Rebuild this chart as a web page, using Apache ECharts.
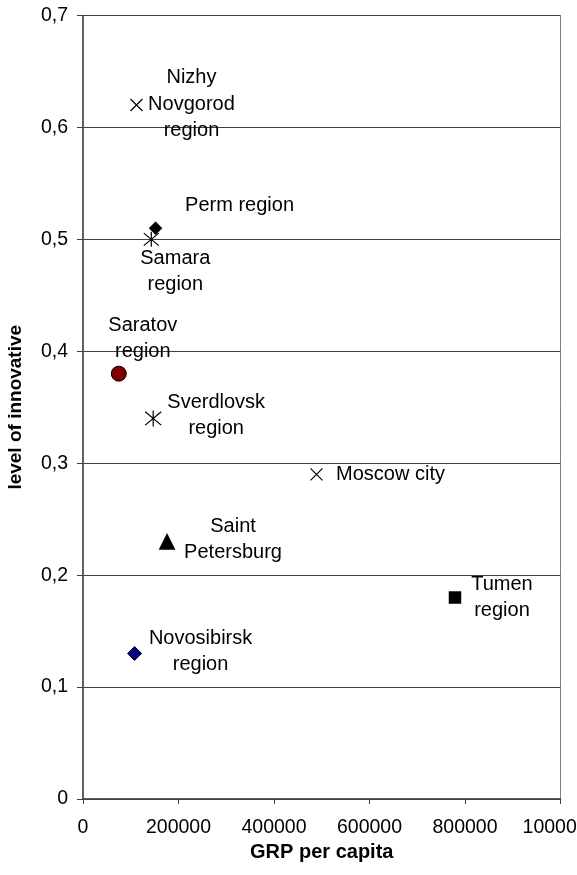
<!DOCTYPE html>
<html>
<head>
<meta charset="utf-8">
<script src="https://cdn.jsdelivr.net/npm/echarts@6/dist/echarts.min.js"></script>
<style>
html,body{margin:0;padding:0;background:#fff;}
#chart{width:577px;height:875px;}
</style>
</head>
<body>
<div id="chart"></div>
<script>
// Data
var regions = ['Nizhy\nNovgorod\nregion', 'Perm region', 'Samara\nregion', 'Saratov\nregion', 'Sverdlovsk\nregion', 'Moscow city', 'Saint\nPetersburg', 'Novosibirsk\nregion', 'Tumen\nregion'];
var grpPerCapita = [112000, 152000, 143000, 75000, 147000, 489000, 176000, 108000, 779000];
var innovationLevel = [0.62, 0.51, 0.50, 0.38, 0.34, 0.29, 0.23, 0.13, 0.18];
var xTicks = [0, 200000, 400000, 600000, 800000, 1000000];
var yTicks = ['0', '0,1', '0,2', '0,3', '0,4', '0,5', '0,6', '0,7'];

// Styles (marker shapes and label placement)
var CROSS = 'path://M0,0L10,10M0,10L10,0';
var STAR = 'path://M0,0L10,10M0,10L10,0M5,-1L5,11';
var styles = [
  {symbol: CROSS, size: 12, color: 'rgba(0,0,0,0)', border: '#000', bw: 1.2, off: [55, -1]},
  {symbol: 'diamond', size: 13, color: '#000', border: '#000', bw: 0.5, off: [84, -23]},
  {symbol: STAR, size: 15, color: 'rgba(0,0,0,0)', border: '#000', bw: 1.2, off: [24, 32]},
  {symbol: 'circle', size: 15, color: '#800000', border: '#000', bw: 1, off: [24, -35]},
  {symbol: STAR, size: 16, color: 'rgba(0,0,0,0)', border: '#000', bw: 1.2, off: [63, -3]},
  {symbol: CROSS, size: 12, color: 'rgba(0,0,0,0)', border: '#000', bw: 1.2, off: [74, 0]},
  {symbol: 'triangle', size: 16, color: '#000', border: '#000', bw: 0.5, off: [66, -2]},
  {symbol: 'diamond', size: 14, color: '#000080', border: '#000', bw: 1, off: [66, -2]},
  {symbol: 'rect', size: 12, color: '#000', border: '#000', bw: 0.5, off: [47, 0]}
];

var FONT = '"Liberation Sans", Arial, sans-serif';
var data = regions.map(function (name, i) {
  var s = styles[i];
  return {
    name: name,
    value: [grpPerCapita[i], innovationLevel[i]],
    symbol: s.symbol,
    symbolSize: s.size,
    itemStyle: {color: s.color, borderColor: s.border, borderWidth: s.bw, opacity: 1},
    label: {
      show: true, position: 'inside', offset: s.off, formatter: name,
      align: 'center', verticalAlign: 'middle',
      color: '#000', fontSize: 20, lineHeight: 26.5, fontFamily: FONT
    }
  };
});

var chart = echarts.init(document.getElementById('chart'), null, {renderer: 'canvas'});
chart.setOption({
  animation: false,
  backgroundColor: '#fff',
  grid: {left: 83, top: 15.5, right: 16.5, bottom: 76, show: true, borderColor: '#808080', borderWidth: 1, containLabel: false, outerBoundsMode: 'none'},
  xAxis: {
    type: 'value', min: xTicks[0], max: xTicks[xTicks.length - 1], interval: xTicks[1] - xTicks[0],
    name: 'GRP per capita', nameLocation: 'middle', nameGap: 43,
    nameTextStyle: {fontSize: 20, fontWeight: 'bold', color: '#000', fontFamily: FONT},
    axisLine: {show: true, onZero: false, lineStyle: {color: '#404040', width: 1.5}},
    axisTick: {show: true, inside: false, length: 5, lineStyle: {color: '#404040'}},
    axisLabel: {fontSize: 19.5, color: '#000', fontFamily: FONT, margin: 19, hideOverlap: false, formatter: function (v) { return String(v); }},
    splitLine: {show: false}
  },
  yAxis: {
    type: 'value', min: 0, max: 0.7, interval: 0.1,
    name: 'level of innovative', nameLocation: 'middle', nameGap: 58,
    nameTextStyle: {fontSize: 19, fontWeight: 'bold', color: '#000', fontFamily: FONT},
    axisLine: {show: true, lineStyle: {color: '#404040', width: 1.5}},
    axisTick: {show: true, inside: false, length: 6, lineStyle: {color: '#404040'}},
    axisLabel: {fontSize: 19.5, color: '#000', fontFamily: FONT, margin: 15, formatter: function (v) { return yTicks[Math.round(v * 10)]; }},
    splitLine: {show: true, lineStyle: {color: '#404040', width: 1}}
  },
  series: [{
    type: 'scatter',
    data: data,
    itemStyle: {opacity: 1},
    z: 3
  }]
});
</script>
</body>
</html>
